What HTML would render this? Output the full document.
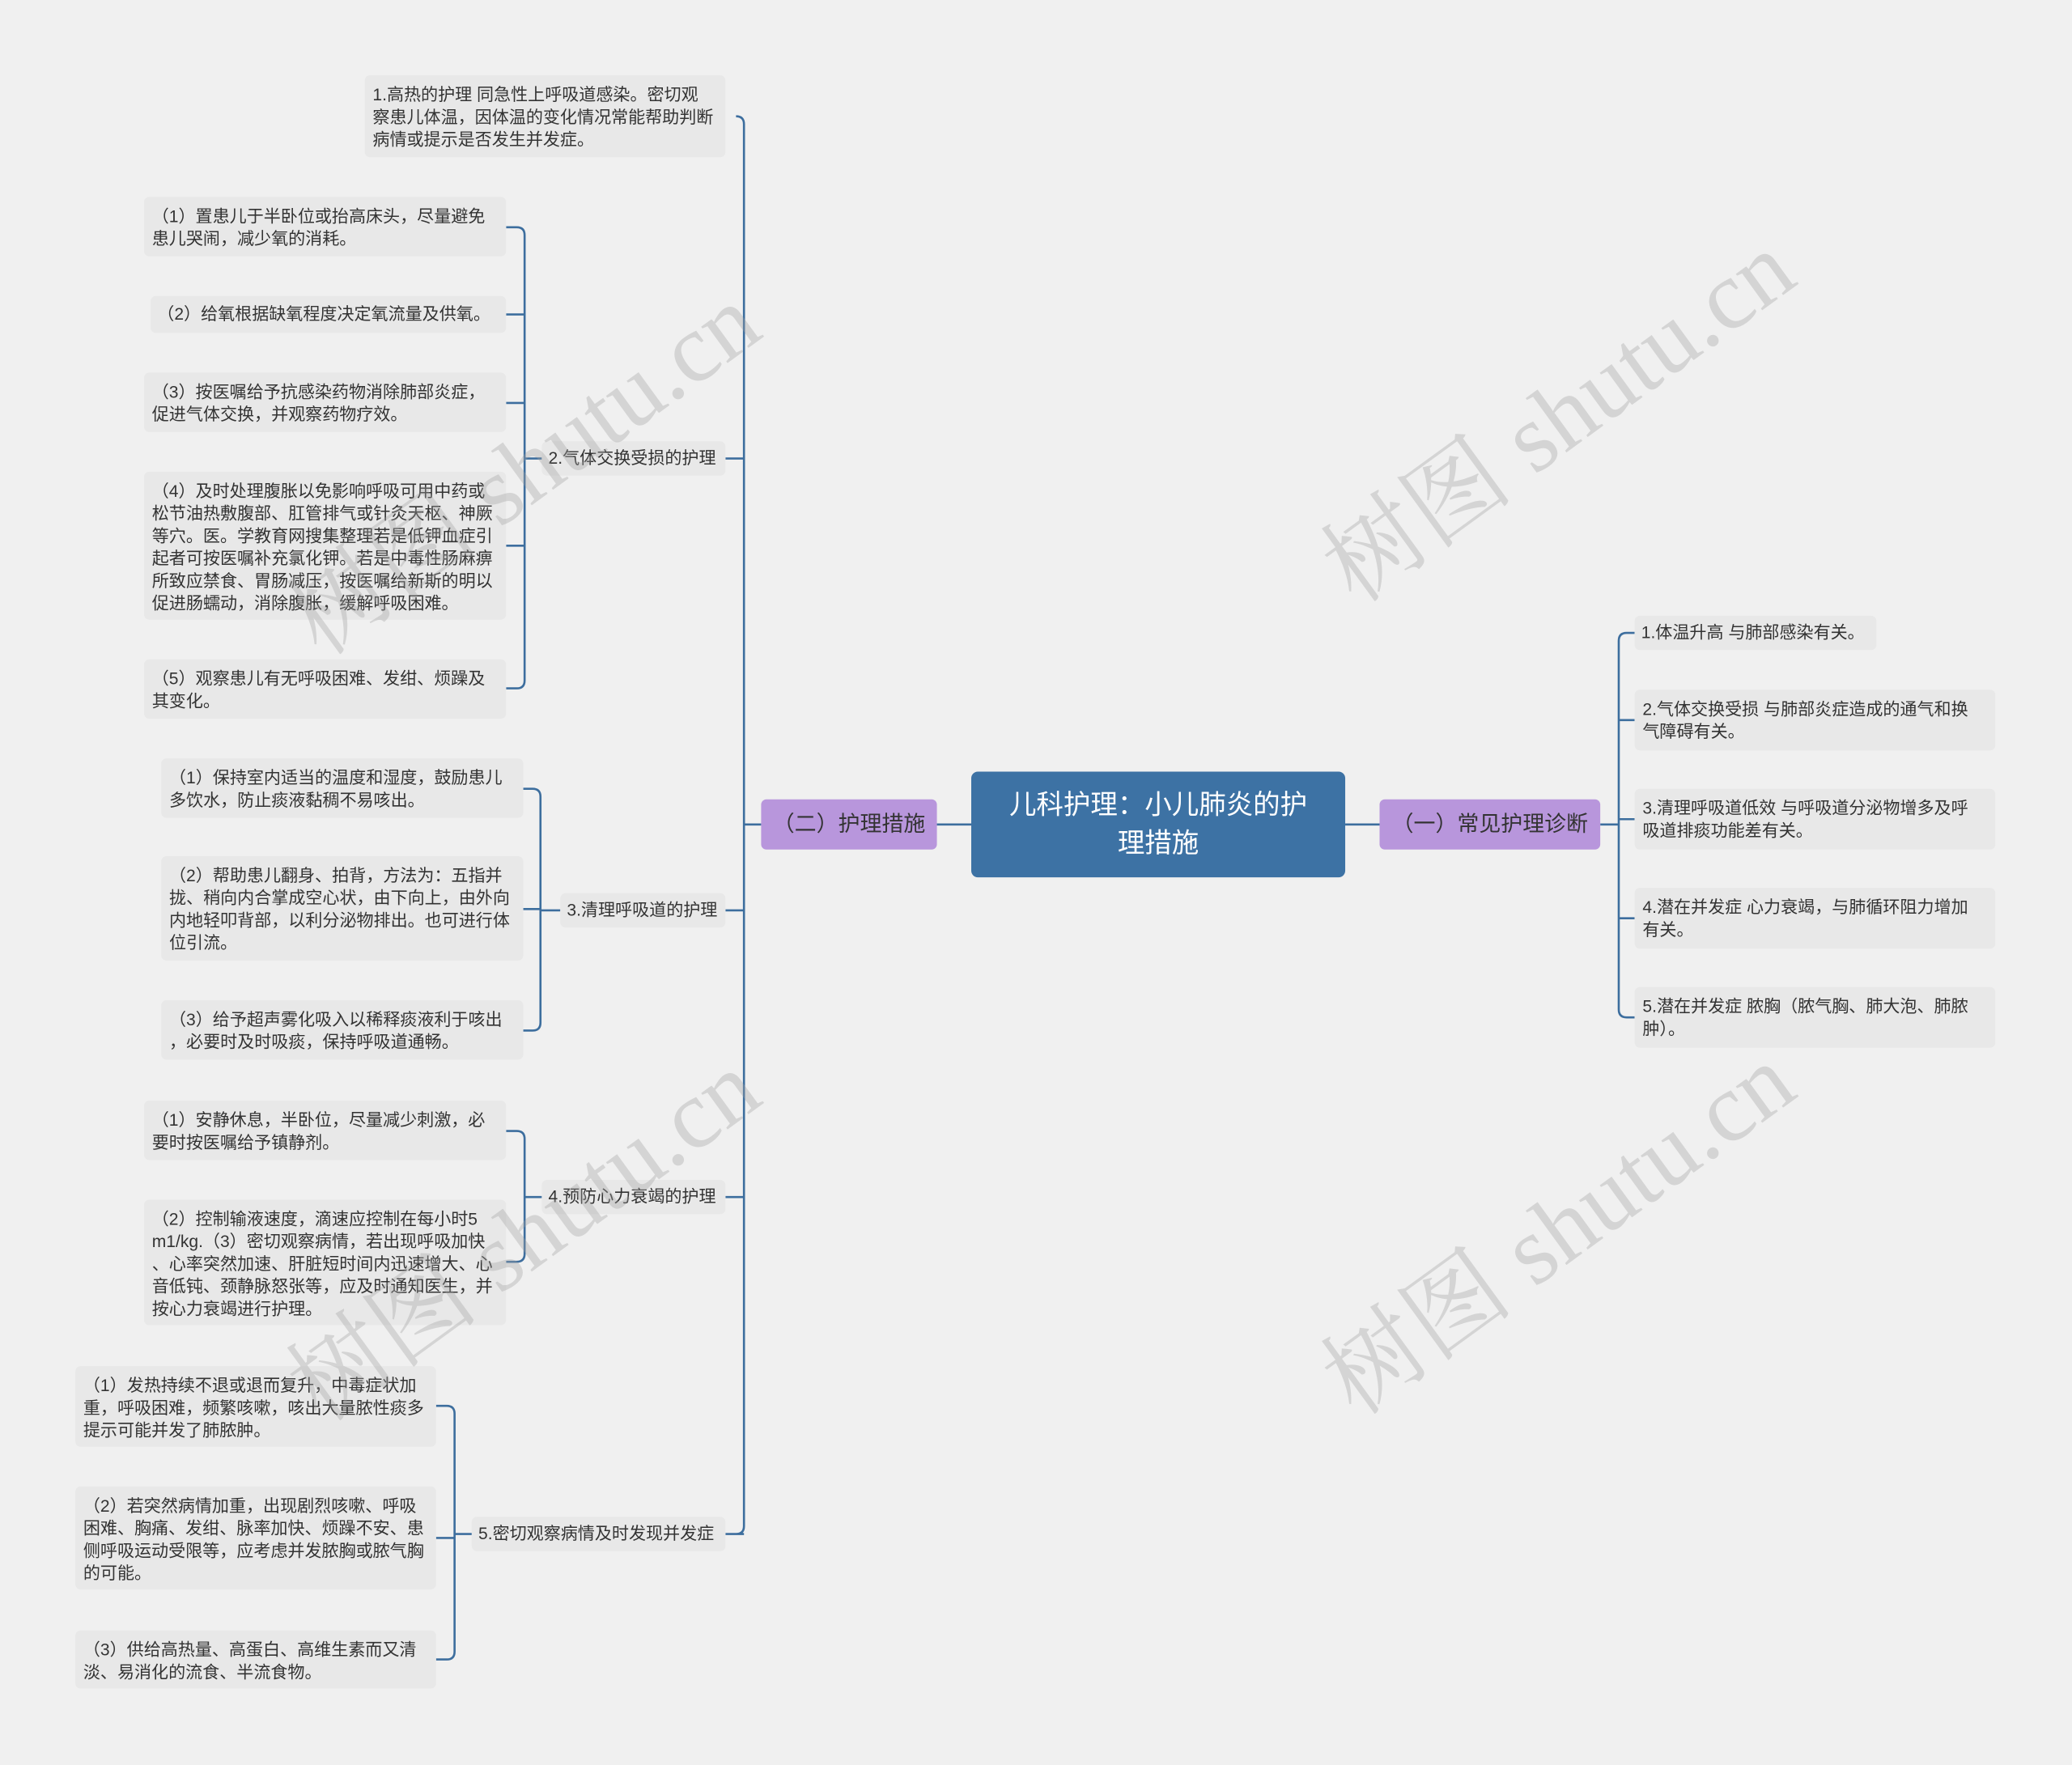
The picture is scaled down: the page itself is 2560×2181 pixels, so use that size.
<!DOCTYPE html>
<html><head><meta charset="utf-8"><style>
html,body{margin:0;padding:0;background:#f0f0f0;}
#wrap{width:2560px;height:2181px;overflow:hidden;position:relative;background:#f0f0f0;}
#c{position:absolute;left:0;top:0;width:1568px;height:1336px;transform:scale(1.632653);transform-origin:0 0;font-family:"Liberation Sans","Noto Sans CJK SC",sans-serif;}
.b{position:absolute;background:#e8e8e8;border-radius:4px;font-size:12.9px;line-height:17px;color:#333;padding:6px 6px;box-sizing:border-box;white-space:nowrap;}
.l{position:absolute;background:#e8e8e8;border-radius:4px;font-size:12.9px;line-height:26px;height:26px;color:#333;padding:0 5px;box-sizing:border-box;white-space:nowrap;}
.p{position:absolute;background:#b896dc;border-radius:4px;font-size:16.5px;color:#333;text-align:center;line-height:38px;height:38px;}
.wm{position:absolute;font-size:74px;color:rgba(160,160,160,0.35);transform:rotate(-36deg);transform-origin:0 50%;white-space:nowrap;font-family:"Liberation Serif","Noto Serif CJK SC",serif;}
svg{position:absolute;left:0;top:0;}
</style></head><body><div id="wrap"><div id="c">
<svg width="1568" height="1336" fill="none" stroke="#3d6e9e" stroke-width="1.6">
<path d="M709 624 H735 M1018 624 H1044"/>
<path d="M576 624 H563 M557 88 Q563 88 563 94 V1155 Q563 1161 557 1161 M549 347 H563 M549 689 H563 M549 906 H563 M549 1161 H563"/>
<path d="M1211 624 H1225 M1231 479 Q1225 479 1225 485 V764 Q1225 770 1231 770 H1237 M1231 479 H1237 M1225 545 H1237 M1225 620 H1237 M1225 695 H1237"/>
<path d="M410 347 H397 M391 172 Q397 172 397 178 V515 Q397 521 391 521 H383 M391 172 H383 M383 238 H397 M383 305 H397 M383 413 H397"/>
<path d="M424 689 H409 M403 597 Q409 597 409 603 V774 Q409 780 403 780 H396 M403 597 H396 M396 688 H409"/>
<path d="M410 906 H397 M391 856 Q397 856 397 862 V949 Q397 955 391 955 H383 M391 856 H383"/>
<path d="M357 1161 H344 M338 1064 Q344 1064 344 1070 V1250 Q344 1256 338 1256 H330 M338 1064 H330 M330 1164 H344"/>
</svg>
<div style="position:absolute;left:735px;top:584px;width:283px;height:80px;background:#3d72a4;border-radius:5px;color:#fff;font-size:20.5px;line-height:29px;text-align:center;padding-top:11px;box-sizing:border-box;">儿科护理：小儿肺炎的护<br>理措施</div>
<div class="p" style="left:576px;top:605px;width:133px;">（二）护理措施</div>
<div class="p" style="left:1044px;top:605px;width:167px;">（一）常见护理诊断</div>

<div class="l" style="left:1237px;top:466px;width:183px;">1.体温升高 与肺部感染有关。</div>
<div class="b" style="left:1237px;top:522px;width:273px;height:46px;">2.气体交换受损 与肺部炎症造成的通气和换<br>气障碍有关。</div>
<div class="b" style="left:1237px;top:597px;width:273px;height:46px;">3.清理呼吸道低效 与呼吸道分泌物增多及呼<br>吸道排痰功能差有关。</div>
<div class="b" style="left:1237px;top:672px;width:273px;height:46px;">4.潜在并发症 心力衰竭，与肺循环阻力增加<br>有关。</div>
<div class="b" style="left:1237px;top:747px;width:273px;height:46px;">5.潜在并发症 脓胸（脓气胸、肺大泡、肺脓<br>肿）。</div>

<div class="b" style="left:276px;top:57px;width:273px;height:62px;">1.高热的护理 同急性上呼吸道感染。密切观<br>察患儿体温，因体温的变化情况常能帮助判断<br>病情或提示是否发生并发症。</div>
<div class="l" style="left:410px;top:334px;width:139px;">2.气体交换受损的护理</div>
<div class="l" style="left:424px;top:676px;width:125px;">3.清理呼吸道的护理</div>
<div class="l" style="left:410px;top:893px;width:139px;">4.预防心力衰竭的护理</div>
<div class="l" style="left:357px;top:1148px;width:192px;">5.密切观察病情及时发现并发症</div>

<div class="b" style="left:109px;top:149px;width:274px;height:45px;">（1）置患儿于半卧位或抬高床头，尽量避免<br>患儿哭闹，减少氧的消耗。</div>
<div class="l" style="left:114px;top:224px;width:269px;height:28px;line-height:28px;">（2）给氧根据缺氧程度决定氧流量及供氧。</div>
<div class="b" style="left:109px;top:282px;width:274px;height:45px;">（3）按医嘱给予抗感染药物消除肺部炎症，<br>促进气体交换，并观察药物疗效。</div>
<div class="b" style="left:109px;top:357px;width:274px;height:112px;">（4）及时处理腹胀以免影响呼吸可用中药或<br>松节油热敷腹部、肛管排气或针灸天枢、神厥<br>等穴。医。学教育网搜集整理若是低钾血症引<br>起者可按医嘱补充氯化钾。若是中毒性肠麻痹<br>所致应禁食、胃肠减压，按医嘱给新斯的明以<br>促进肠蠕动，消除腹胀，缓解呼吸困难。</div>
<div class="b" style="left:109px;top:499px;width:274px;height:45px;">（5）观察患儿有无呼吸困难、发绀、烦躁及<br>其变化。</div>

<div class="b" style="left:122px;top:574px;width:274px;height:45px;">（1）保持室内适当的温度和湿度，鼓励患儿<br>多饮水，防止痰液黏稠不易咳出。</div>
<div class="b" style="left:122px;top:648px;width:274px;height:79px;">（2）帮助患儿翻身、拍背，方法为：五指并<br>拢、稍向内合掌成空心状，由下向上，由外向<br>内地轻叩背部，以利分泌物排出。也可进行体<br>位引流。</div>
<div class="b" style="left:122px;top:757px;width:274px;height:45px;">（3）给予超声雾化吸入以稀释痰液利于咳出<br>，必要时及时吸痰，保持呼吸道通畅。</div>

<div class="b" style="left:109px;top:833px;width:274px;height:45px;">（1）安静休息，半卧位，尽量减少刺激，必<br>要时按医嘱给予镇静剂。</div>
<div class="b" style="left:109px;top:908px;width:274px;height:95px;">（2）控制输液速度，滴速应控制在每小时5<br>m1/kg.（3）密切观察病情，若出现呼吸加快<br>、心率突然加速、肝脏短时间内迅速增大、心<br>音低钝、颈静脉怒张等，应及时通知医生，并<br>按心力衰竭进行护理。</div>

<div class="b" style="left:57px;top:1034px;width:273px;height:61px;">（1）发热持续不退或退而复升，中毒症状加<br>重，呼吸困难，频繁咳嗽，咳出大量脓性痰多<br>提示可能并发了肺脓肿。</div>
<div class="b" style="left:57px;top:1125px;width:273px;height:78px;">（2）若突然病情加重，出现剧烈咳嗽、呼吸<br>困难、胸痛、发绀、脉率加快、烦躁不安、患<br>侧呼吸运动受限等，应考虑并发脓胸或脓气胸<br>的可能。</div>
<div class="b" style="left:57px;top:1234px;width:273px;height:44px;">（3）供给高热量、高蛋白、高维生素而又清<br>淡、易消化的流食、半流食物。</div>

<div class="wm" style="left:225px;top:420px;">树图 shutu.cn</div>
<div class="wm" style="left:1008px;top:380px;">树图 shutu.cn</div>
<div class="wm" style="left:225px;top:1000px;">树图 shutu.cn</div>
<div class="wm" style="left:1008px;top:995px;">树图 shutu.cn</div>
</div></div></body></html>
